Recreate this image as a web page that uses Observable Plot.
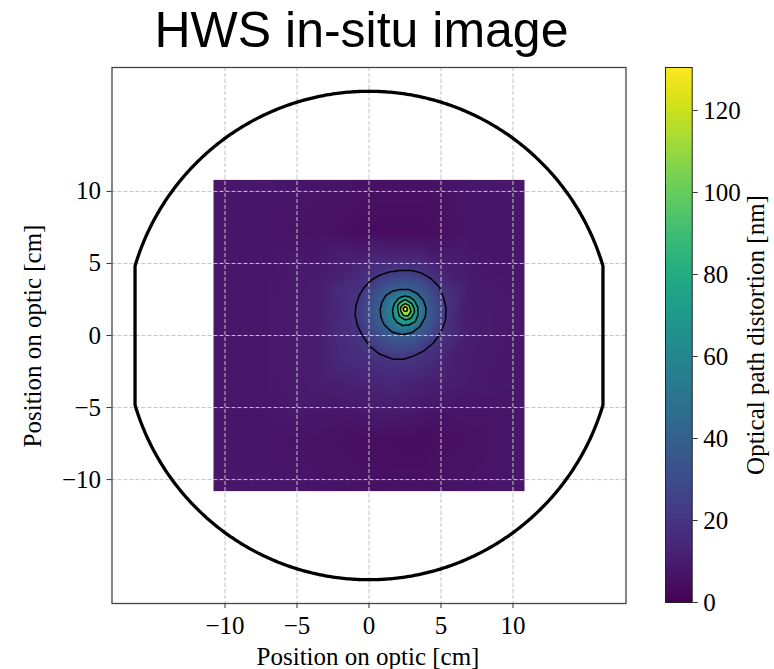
<!DOCTYPE html>
<html>
<head>
<meta charset="utf-8">
<script src="https://cdn.jsdelivr.net/npm/d3@7"></script>
<script src="https://cdn.jsdelivr.net/npm/@observablehq/plot@0.6"></script>
<style>
  html, body { margin: 0; padding: 0; background: #fff; }
  #wrap { position: relative; width: 774px; height: 669px; background: #fff; overflow: hidden; }
  #wrap > svg { position: absolute; top: 0; }
  .lbl { position: absolute; white-space: nowrap; line-height: 1; color: #000; }
</style>
</head>
<body>
<div id="wrap">
  <div class="lbl" id="title" style="font-family:'Liberation Sans',Arial,sans-serif;font-size:50px;left:361.5px;top:4.5px;transform:translateX(-50%);">HWS in-situ image</div>
  <div class="lbl" id="xlabel" style="font-family:'Liberation Serif',serif;font-size:25px;left:368px;top:644px;transform:translateX(-50%);">Position on optic [cm]</div>
  <div class="lbl" id="ylabel" style="font-family:'Liberation Serif',serif;font-size:25px;left:31.6px;top:336px;transform:translate(-50%,-50%) rotate(-90deg);">Position on optic [cm]</div>
  <div class="lbl" id="clabel" style="font-family:'Liberation Serif',serif;font-size:25px;left:755px;top:335px;transform:translate(-50%,-50%) rotate(-90deg);">Optical path distortion [nm]</div>
</div>
<script>
// ---------------- data ----------------
const xTicks = [-10, -5, 0, 5, 10];
const yTicks = [-10, -5, 0, 5, 10];
const colorTicks = [0, 20, 40, 60, 80, 100, 120];
const contourLevels = [20, 40, 60, 80, 100, 120];
const colorMax = 130.5;

// image extent [cm]
const imageExtent = [-10.8, 10.8];

// optic outline: radius and position of the flats [cm]
const opticRadius = 16.95;
const opticFlat = 16.25;

// coarse background samples of the wavefront map (null = covered by the peak rings)
const bgX = [-10.8, -7.2, -3.6, 0, 3.6, 7.2, 10.8];
const bgY = [10.8, 7.2, 3.6, 0, -3.6, -7.2, -10.8];
const bgValues = [
  [8, 8, 7, 6, 6, 8, 8],
  [8, 7, 6, 4, 4, 7, 8],
  [8, 8, 10, null, null, 9, 8],
  [8, 8, 11, null, null, 10, 8],
  [8, 8, 10, 12, 11, 9, 8],
  [8, 7, 6, 5, 4, 6, 8],
  [8, 8, 7, 6, 6, 7, 8]
];

// faint glow around the hot spot
const glowPoints = [[2.2, 5.6], [-0.7, 4.8], [-2.0, 1.5], [-1.3, -1.5], [1.5, -3.0], [4.5, -2.3], [6.3, 1.2], [5.5, 4.3]];
const glowValues = [12, 13, 15, 16, 15, 13, 12, 12];

// contour rings: [x, y] in cm
const ring20 = [[2.22,4.51],[1.41,4.40],[0.72,4.17],[0.14,3.82],[-0.32,3.36],[-0.67,2.78],[-0.90,2.08],[-0.95,1.39],[-0.79,0.69],[-0.44,0.00],[0.02,-0.69],[0.72,-1.27],[1.64,-1.62],[2.45,-1.62],[3.15,-1.39],[3.84,-1.04],[4.47,-0.51],[5.00,0.23],[5.30,1.04],[5.35,1.85],[5.16,2.66],[4.88,3.36],[4.31,3.94],[3.61,4.35],[2.92,4.51]];
const ring40 = [[2.22,3.19],[1.64,3.08],[1.18,2.78],[0.90,2.31],[0.79,1.85],[0.83,1.27],[1.06,0.74],[1.64,0.23],[2.34,0.07],[3.03,0.23],[3.54,0.63],[3.89,1.27],[3.96,1.85],[3.77,2.43],[3.38,2.89],[2.80,3.17]];
const ring60 = [[2.45,2.73],[2.06,2.59],[1.76,2.20],[1.64,1.74],[1.71,1.27],[1.92,0.93],[2.34,0.69],[2.80,0.74],[3.22,0.97],[3.40,1.44],[3.38,1.97],[3.15,2.43],[2.80,2.69]];
const ring80 = [[2.52,2.50],[2.18,2.31],[1.99,1.85],[2.11,1.34],[2.52,1.09],[2.92,1.20],[3.15,1.62],[2.99,2.20]];
const ring100 = [[2.52,2.22],[2.25,2.04],[2.22,1.69],[2.38,1.39],[2.71,1.34],[2.92,1.67],[2.80,2.08]];
const ring120 = [[2.52,2.02],[2.36,1.88],[2.44,1.68],[2.64,1.68],[2.68,1.88]];
const peak = [2.52, 1.85];
const peakValue = 130;

// ---------------- build sample table ----------------
const samples = [];
bgValues.forEach((row, i) => row.forEach((v, j) => {
  if (v !== null) samples.push({x: bgX[j], y: bgY[i], v});
}));
glowPoints.forEach(([x, y], i) => samples.push({x, y, v: glowValues[i]}));
[[ring20, 20], [ring40, 40], [ring60, 60], [ring80, 80], [ring100, 100], [ring120, 120]]
  .forEach(([ring, level]) => ring.forEach(([x, y]) => samples.push({x, y, v: level})));
samples.push({x: peak[0], y: peak[1], v: peakValue});

// optic outline (circle with two vertical flats)
const outline = d3.range(0, 361, 0.5).map(a => {
  const t = a * Math.PI / 180;
  let x = opticRadius * Math.cos(t);
  x = Math.max(-opticFlat, Math.min(opticFlat, x));
  return {x, y: opticRadius * Math.sin(t)};
});

const fmt = d => (d < 0 ? "\u2212" + Math.abs(d) : String(d));
const colorScale = {type: "linear", scheme: "viridis", domain: [0, colorMax]};

// ---------------- main plot ----------------
const main = Plot.plot({
  width: 650,
  height: 669,
  marginLeft: 111.5,
  marginRight: 24.5,
  marginTop: 67,
  marginBottom: 66,
  x: {domain: [-17.85, 17.85], axis: null},
  y: {domain: [-18.6, 18.6], axis: null},
  color: colorScale,
  style: {fontFamily: "'Liberation Serif', serif", fontSize: "25px", background: "transparent", overflow: "visible"},
  marks: [
    Plot.raster(samples, {
      x: "x", y: "y", fill: "v", interpolate: "barycentric",
      x1: imageExtent[0], x2: imageExtent[1], y1: imageExtent[0], y2: imageExtent[1],
      pixelSize: 1
    }),
    Plot.contour(samples, {
      x: "x", y: "y", value: "v", interpolate: "barycentric",
      x1: imageExtent[0], x2: imageExtent[1], y1: imageExtent[0], y2: imageExtent[1],
      pixelSize: 1, thresholds: contourLevels,
      fill: "none", stroke: "black", strokeWidth: 1.5
    }),
    Plot.gridX(xTicks, {stroke: "#c4c4c4", strokeOpacity: 1, strokeWidth: 1, strokeDasharray: "4,2"}),
    Plot.gridY(yTicks, {stroke: "#c4c4c4", strokeOpacity: 1, strokeWidth: 1, strokeDasharray: "4,2"}),
    Plot.line(outline, {x: "x", y: "y", stroke: "black", strokeWidth: 3.3}),
    Plot.frame({stroke: "#444", strokeWidth: 1.3}),
    Plot.axisX({ticks: xTicks, tickFormat: fmt, tickSize: 5, tickPadding: 8, label: null, stroke: "#333"}),
    Plot.axisY({ticks: yTicks, tickFormat: fmt, tickSize: 5, tickPadding: 6, label: null, stroke: "#333"})
  ]
});
main.style.left = "0px";

// ---------------- colour bar ----------------
const cbar = Plot.plot({
  width: 134,
  height: 669,
  marginLeft: 25,
  marginRight: 82.3,
  marginTop: 67,
  marginBottom: 67,
  x: {domain: [0, 1], axis: null},
  y: {domain: [0, colorMax], axis: null},
  color: colorScale,
  style: {fontFamily: "'Liberation Serif', serif", fontSize: "25px", background: "transparent", overflow: "visible"},
  marks: [
    Plot.raster({fill: (x, y) => y, x1: 0, x2: 1, y1: 0, y2: colorMax, pixelSize: 1}),
    Plot.frame({stroke: "#222", strokeWidth: 1}),
    Plot.axisY({anchor: "right", ticks: colorTicks, tickFormat: fmt, tickSize: 5, tickPadding: 6, label: null, stroke: "#333"})
  ]
});
cbar.style.left = "640px";

const wrap = document.getElementById("wrap");
wrap.appendChild(main);
wrap.appendChild(cbar);
</script>
</body>
</html>
